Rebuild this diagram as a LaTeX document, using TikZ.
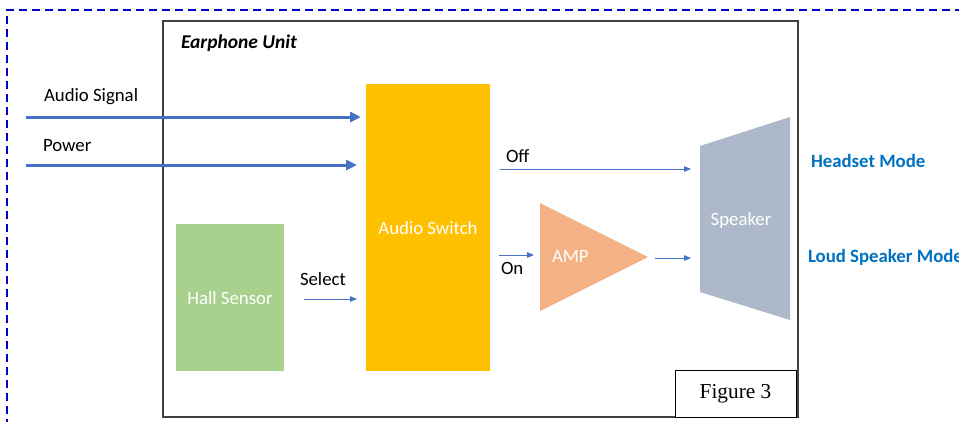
\documentclass[tikz,border=0pt]{standalone}
\usepackage{fontspec}
\setmainfont{Carlito}
\newfontfamily\serifface{Liberation Serif}
\usetikzlibrary{arrows.meta,calc}

\definecolor{switchc}{HTML}{FFC000}
\definecolor{hallc}{HTML}{A9D18E}
\definecolor{ampc}{HTML}{F4B183}
\definecolor{spkc}{HTML}{ADB9CA}
\definecolor{linkc}{HTML}{4472C4}
\definecolor{modec}{HTML}{0070C0}
\definecolor{framec}{HTML}{0000CC}
\definecolor{unitc}{HTML}{404040}

\tikzset{
  every node/.style={inner sep=0pt, outer sep=0pt},
  lbl/.style={font=\fontsize{18.8}{22}\selectfont, text=black, anchor=west},
  wlbl/.style={font=\fontsize{18.8}{22}\selectfont, text=white},
  modelbl/.style={font=\fontsize{18.8}{22}\selectfont\bfseries, text=modec, anchor=west},
  blockbox/.style={draw=none, minimum width=#1},
  bigarrow/.style={draw=linkc, line width=3pt, -{Triangle[length=11pt,width=10pt]}},
  thinarrow/.style={draw=linkc, line width=1pt, -{Triangle[length=7pt,width=5.5pt]}},
}

\begin{document}
\begin{tikzpicture}[x=1pt,y=-1pt]
\useasboundingbox (0,0) rectangle (959,421);
\clip (0,0) rectangle (959,421);

% outer dashed frame
\draw[framec, line width=2pt, dash pattern=on 8pt off 5pt] (7,440) -- (7,10) -- (990,10);

% earphone unit enclosure
\node[draw=unitc, line width=1.6pt, fill=white, minimum width=635pt, minimum height=396pt] (unit) at (480.5,219) {};
\node[font=\fontsize{19.5}{22}\selectfont\bfseries\itshape, anchor=west] (unitname) at (181,43) {Earphone Unit};

% functional blocks
\node[fill=switchc, minimum width=124pt, minimum height=287pt] (sw) at (428,227.5) {};
\node[wlbl] (swtext) at (428,228) {Audio Switch};
\node[fill=hallc, minimum width=108pt, minimum height=147pt] (hall) at (230,297.5) {};
\node[wlbl] (halltext) at (230,298) {Hall Sensor};

% amplifier
\fill[ampc] (540,203) -- (648,257) -- (540,311) -- cycle;
\coordinate (ampin) at (540,255);
\coordinate (ampout) at (648,258);
\node[wlbl, anchor=west] (amptext) at (552,256) {AMP};

% speaker
\fill[spkc] (700,146) -- (790,117) -- (790,320) -- (700,292) -- cycle;
\coordinate (spkoff) at (700,169);
\coordinate (spkon) at (700,258);
\node[wlbl] (spktext) at (741,220) {Speaker};

% external inputs
\coordinate (audiosrc) at (26,117);
\coordinate (powersrc) at (26,165);
\node[lbl] (audiolbl) at (44,97) {Audio Signal};
\node[lbl] (powerlbl) at (43,146) {Power};
\draw[bigarrow, shorten >=5pt] (audiosrc) -- (audiosrc -| sw.west);
\draw[bigarrow, shorten >=9pt] (powersrc) -- (powersrc -| sw.west);

% select line
\node[lbl] (sellbl) at (300,279) {Select};
\draw[thinarrow, shorten <=20pt, shorten >=9pt] ($(hall.east)+(0,1.5)$) -- ($(hall.east -| sw.west)+(0,1.5)$);

% switch outputs
\node[lbl] (offlbl) at (506,156) {Off};
\draw[thinarrow, shorten <=10pt, shorten >=9pt] (spkoff -| sw.east) -- (spkoff);
\node[lbl] (onlbl) at (501,268) {On};
\draw[thinarrow, shorten <=9pt, shorten >=6pt] (ampin -| sw.east) -- (ampin);
\draw[thinarrow, shorten <=7pt, shorten >=9pt] (ampout) -- (spkon);

% mode labels
\node[modelbl] (headset) at (811,161) {Headset Mode};
\node[modelbl] (loud) at (808,257) {Loud Speaker Mode};

% caption box
\node[draw=black, line width=1pt, fill=white, minimum width=121pt, minimum height=47pt,
      font=\serifface\fontsize{21.3}{24}\selectfont] (caption) at (735.5,393.5) {Figure 3};
\end{tikzpicture}
\end{document}
